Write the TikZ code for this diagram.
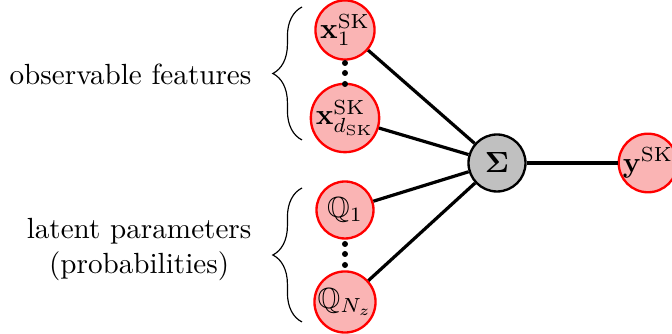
\documentclass[tikz,border=0pt]{standalone}
\usepackage{amsmath,amssymb}
\usetikzlibrary{decorations.pathreplacing}
\definecolor{nodepink}{RGB}{250,180,180}
\definecolor{sumgray}{RGB}{192,192,192}
\begin{document}
\begin{tikzpicture}[x=0.343pt,y=-0.343pt,
  neuron/.style={circle, draw=red, thick, fill=nodepink, minimum size=57*0.343pt, inner sep=0pt},
  sumnode/.style={circle, draw=black, thick, fill=sumgray, minimum size=57*0.343pt, inner sep=0pt},
  conn/.style={black, line width=1.1pt},
  dotmark/.style={circle, fill=black, inner sep=0pt, minimum size=6*0.343pt},
  bracestyle/.style={decorate, decoration={brace, amplitude=10pt}, thin},
  lbl/.style={align=center, anchor=east, inner sep=0pt}]
\useasboundingbox (0,0) rectangle (672,334);
\node[neuron] (x1) at (345,30) {$\mathbf{x}_1^{\mathrm{SK}}$};
\node[neuron] (xd) at (345,118) {$\mathbf{x}^{\mathrm{SK}}_{d_{\mathrm{SK}}}$};
\node[neuron] (q1) at (345,210) {$\mathbb{Q}_1$};
\node[neuron] (qn) at (345,302) {$\mathbb{Q}_{N_z}$};
\node[sumnode] (s) at (497,163) {$\boldsymbol{\Sigma}$};
\node[neuron] (y) at (648,163) {$\mathbf{y}^{\mathrm{SK}}$};
\foreach \n/\yy in {a/63,b/73,c/84,d/244,e/254,f/265}
  \node[dotmark] (dot\n) at (345,\yy) {};
\draw[conn] (x1) -- (s);
\draw[conn] (xd) -- (s);
\draw[conn] (q1) -- (s);
\draw[conn] (qn) -- (s);
\draw[conn] (s) -- (y);
\coordinate (b1s) at (302,140);
\coordinate (b1e) at (302,7);
\coordinate (b2s) at (302,322);
\coordinate (b2e) at (302,188);
\draw[bracestyle] (b1s) -- (b1e);
\draw[bracestyle] (b2s) -- (b2e);
\node[lbl] (obs) at (252,74) {observable features};
\node[lbl] (lat) at (252,250) {latent parameters\\(probabilities)};
\end{tikzpicture}
\end{document}
